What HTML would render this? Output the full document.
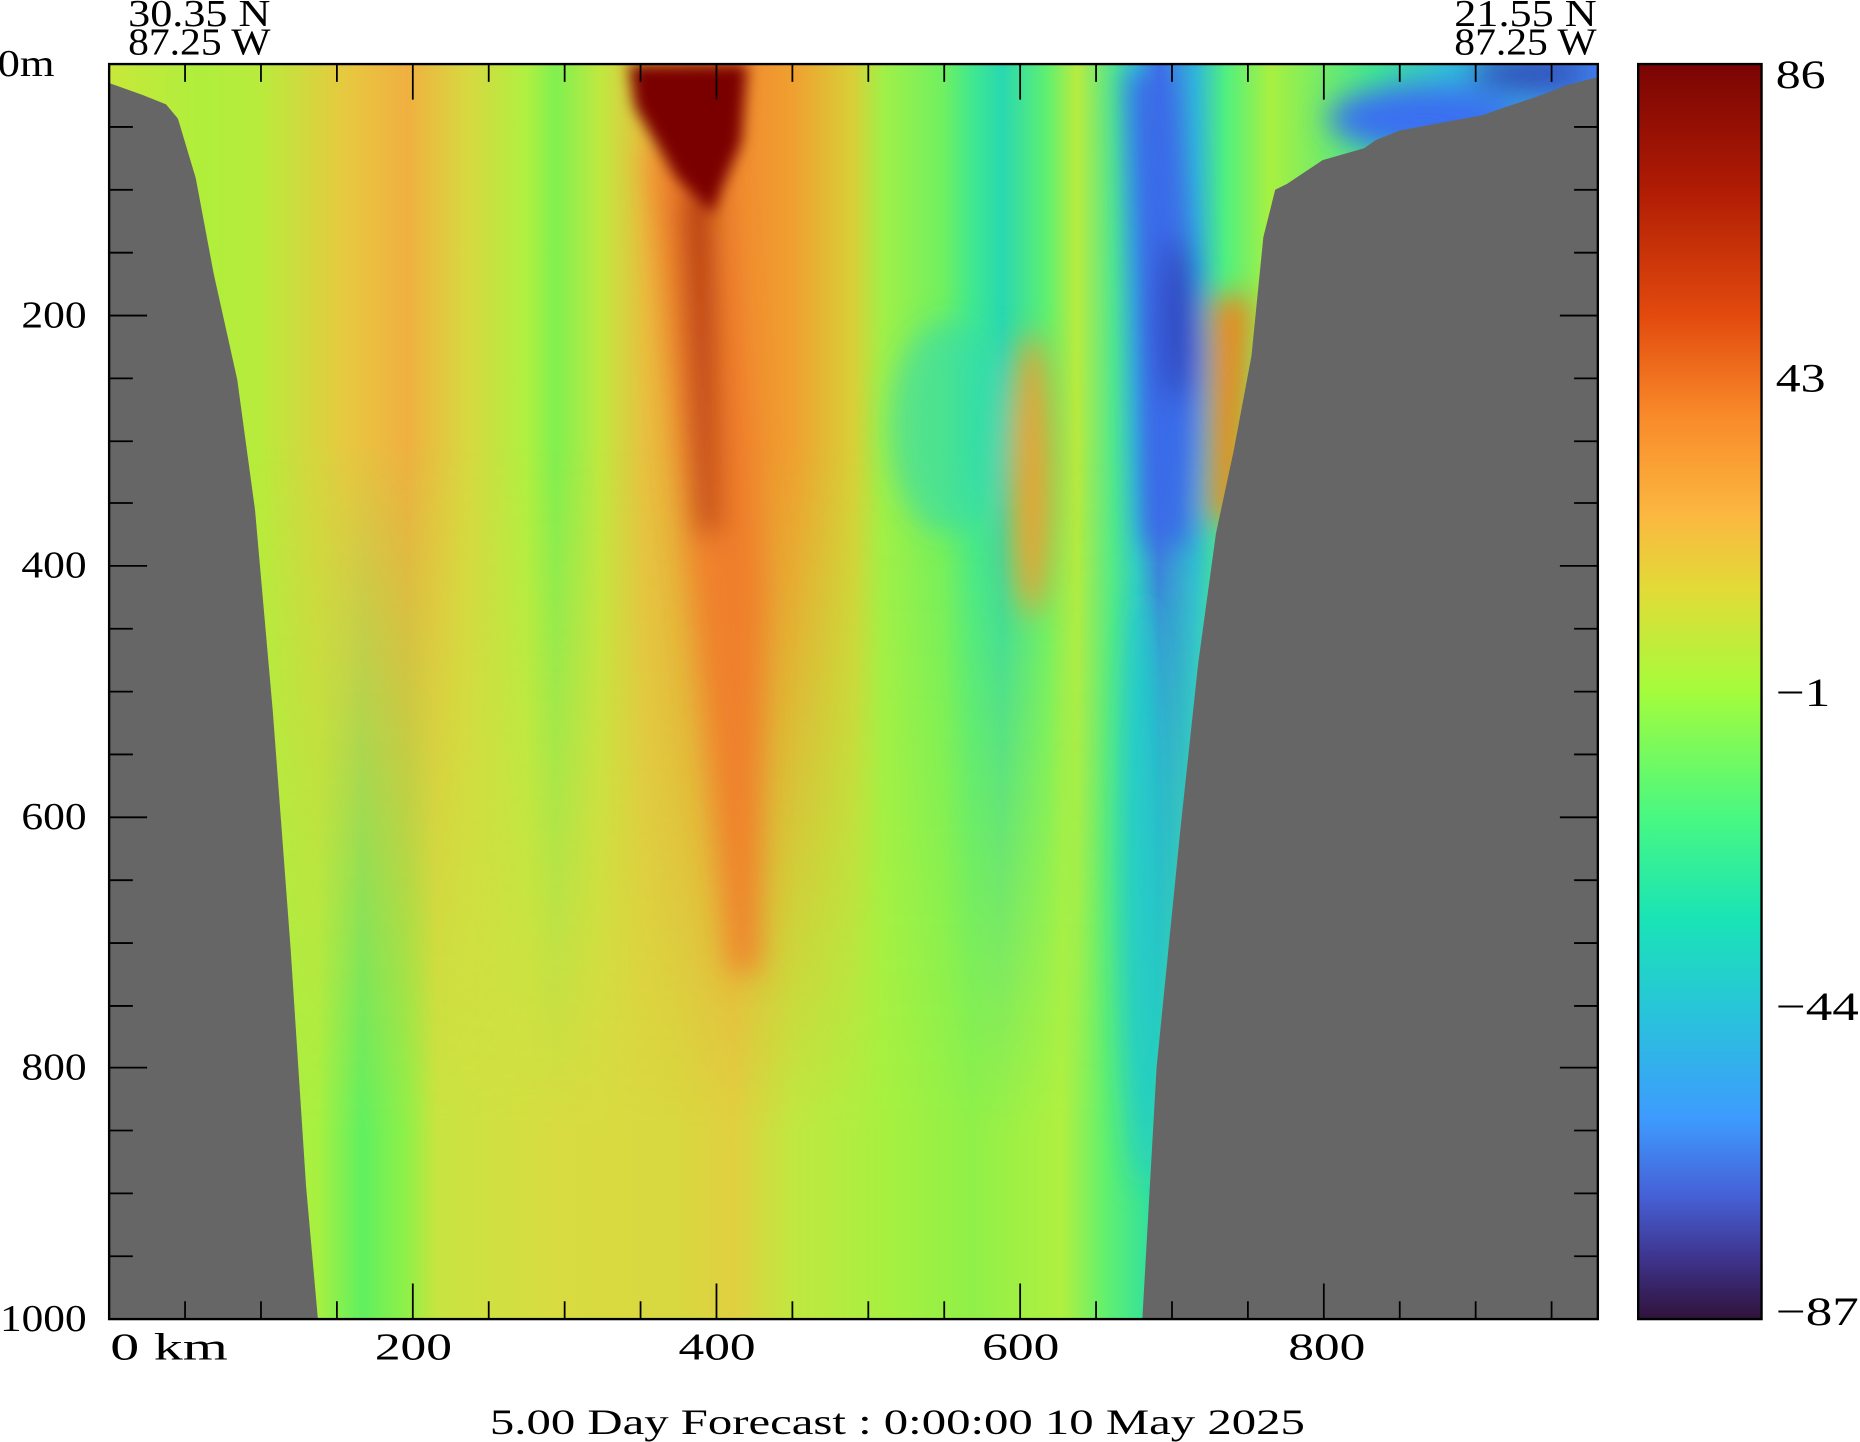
<!DOCTYPE html>
<html><head><meta charset="utf-8"><style>html,body{margin:0;padding:0;background:#fff}svg{display:block}</style></head><body>
<svg width="1860" height="1442" viewBox="0 0 1568 1215.6" xmlns="http://www.w3.org/2000/svg" font-family="Liberation Serif, serif" font-size="32" fill="#000">
<defs>
<linearGradient id="gt" x1="92" x2="1347" y1="0" y2="0" gradientUnits="userSpaceOnUse">
<stop offset="0" stop-color="#c8e83a"/>
<stop offset="0.06" stop-color="#b0ee3c"/>
<stop offset="0.1" stop-color="#b8ec3c"/>
<stop offset="0.16" stop-color="#e8c840"/>
<stop offset="0.2" stop-color="#f0b040"/>
<stop offset="0.24" stop-color="#d8d840"/>
<stop offset="0.28" stop-color="#b0f040"/>
<stop offset="0.3" stop-color="#80f050"/>
<stop offset="0.33" stop-color="#c0e840"/>
<stop offset="0.36" stop-color="#e8c040"/>
<stop offset="0.42" stop-color="#f08a30"/>
<stop offset="0.46" stop-color="#f0a030"/>
<stop offset="0.5" stop-color="#d8d038"/>
<stop offset="0.52" stop-color="#a0f048"/>
<stop offset="0.56" stop-color="#70f060"/>
<stop offset="0.58" stop-color="#40e890"/>
<stop offset="0.6" stop-color="#28d8b0"/>
<stop offset="0.63" stop-color="#60f070"/>
<stop offset="0.65" stop-color="#b8ec40"/>
<stop offset="0.675" stop-color="#50e890"/>
<stop offset="0.69" stop-color="#30c8d0"/>
<stop offset="0.705" stop-color="#4070e8"/>
<stop offset="0.73" stop-color="#30b8d8"/>
<stop offset="0.75" stop-color="#50f080"/>
<stop offset="0.78" stop-color="#a8f040"/>
<stop offset="0.85" stop-color="#40e890"/>
<stop offset="0.9" stop-color="#30c0d8"/>
<stop offset="1" stop-color="#4080f0"/>
</linearGradient>
<linearGradient id="gb" x1="92" x2="1347" y1="0" y2="0" gradientUnits="userSpaceOnUse">
<stop offset="0" stop-color="#c0e840"/>
<stop offset="0.14" stop-color="#a8f040"/>
<stop offset="0.17" stop-color="#60f060"/>
<stop offset="0.2" stop-color="#90f048"/>
<stop offset="0.22" stop-color="#c8e440"/>
<stop offset="0.3" stop-color="#d8dc40"/>
<stop offset="0.38" stop-color="#d8d840"/>
<stop offset="0.42" stop-color="#e0d040"/>
<stop offset="0.46" stop-color="#c0e840"/>
<stop offset="0.52" stop-color="#a8f040"/>
<stop offset="0.58" stop-color="#90f048"/>
<stop offset="0.64" stop-color="#b0f040"/>
<stop offset="0.67" stop-color="#60f070"/>
<stop offset="0.7" stop-color="#30e0a0"/>
<stop offset="0.73" stop-color="#40e8a0"/>
<stop offset="1" stop-color="#40e8a0"/>
</linearGradient>
<linearGradient id="fade" x1="0" x2="0" y1="54" y2="1112" gradientUnits="userSpaceOnUse">
<stop offset="0.3" stop-color="#fff" stop-opacity="0"/>
<stop offset="0.85" stop-color="#fff" stop-opacity="1"/>
</linearGradient>
<mask id="m"><rect x="92" y="54" width="1255" height="1058" fill="url(#fade)"/></mask>
<filter id="bl" x="-50%" y="-50%" width="200%" height="200%"><feGaussianBlur stdDeviation="12"/></filter>
<filter id="bl2" x="-50%" y="-50%" width="200%" height="200%"><feGaussianBlur stdDeviation="6"/></filter>
<linearGradient id="cb" x1="0" x2="0" y1="0" y2="1">
<stop offset="0" stop-color="#7a0403"/>
<stop offset="0.1" stop-color="#b01c04"/>
<stop offset="0.2" stop-color="#e24a0e"/>
<stop offset="0.28" stop-color="#f98a2a"/>
<stop offset="0.36" stop-color="#fbb840"/>
<stop offset="0.42" stop-color="#e1dc37"/>
<stop offset="0.5" stop-color="#a4fc3c"/>
<stop offset="0.6" stop-color="#48f882"/>
<stop offset="0.68" stop-color="#1ae4b6"/>
<stop offset="0.76" stop-color="#29c2dc"/>
<stop offset="0.84" stop-color="#3e9bfe"/>
<stop offset="0.9" stop-color="#4662d8"/>
<stop offset="0.95" stop-color="#3e358f"/>
<stop offset="1" stop-color="#30123b"/>
</linearGradient>
<clipPath id="pc"><rect x="92" y="54" width="1255" height="1058"/></clipPath>
</defs>
<g clip-path="url(#pc)">
<rect x="92" y="54" width="1255" height="1058" fill="url(#gt)"/>
<rect x="92" y="54" width="1255" height="1058" fill="url(#gb)" mask="url(#m)"/>
<g filter="url(#bl)">
<path d="M545,120 L610,150 L645,500 L640,820 L615,820 L585,500 Z" fill="#f07a28" opacity="0.85"/>
<path d="M575,160 L600,160 L605,450 L590,450 Z" fill="#a01408" opacity="0.85"/>
<ellipse cx="870" cy="400" rx="18" ry="120" fill="#f0a030" opacity="0.95"/>
<path d="M950,60 L985,60 L1012,300 L1000,460 L965,460 L958,250 Z" fill="#3a6ae8"/>
<ellipse cx="992" cy="270" rx="14" ry="70" fill="#3040b8" opacity="0.9"/>
<path d="M1022,250 L1055,250 L1045,440 L1020,440 Z" fill="#f5801e"/>
<ellipse cx="800" cy="360" rx="50" ry="90" fill="#30d8b0" opacity="0.6"/>
<ellipse cx="965" cy="750" rx="20" ry="250" fill="#20c8d0" opacity="0.8"/>
<ellipse cx="1200" cy="100" rx="80" ry="28" fill="#3a70f0"/>
<ellipse cx="1290" cy="62" rx="50" ry="12" fill="#3040b0"/>
</g>
<path d="M530,54 L630,54 L625,120 L600,180 L570,150 L535,90 Z" fill="#7a0403" filter="url(#bl2)"/>
<path d="M92,60 L92,70 L120,80 L140,88 L150,100 L165,150 L180,230 L200,320 L215,430 L230,600 L245,800 L258,1000 L268,1112 L92,1112 Z" fill="#666"/>
<path d="M963,1112 L975,900 L995,700 L1010,560 L1025,450 L1040,380 L1055,300 L1065,200 L1075,160 L1085,155 L1100,145 L1115,135 L1150,125 L1160,118 L1180,110 L1250,97 L1270,90 L1300,80 L1320,72 L1347,65 L1347,1112 Z" fill="#666"/>
</g>
<rect x="92" y="54" width="1255" height="1058" fill="none" stroke="#000" stroke-width="2"/>
<g stroke="#000" stroke-width="1.5">
<path d="M156,54v15M220,54v15M284,54v15M348,54v30M412,54v15M476,54v15M540,54v15M604,54v30M668,54v15M732,54v15M796,54v15M860,54v30M924,54v15M988,54v15M1052,54v15M1116,54v30M1180,54v15M1244,54v15M1308,54v15"/>
<path d="M156,1112v-15M220,1112v-15M284,1112v-15M348,1112v-30M412,1112v-15M476,1112v-15M540,1112v-15M604,1112v-30M668,1112v-15M732,1112v-15M796,1112v-15M860,1112v-30M924,1112v-15M988,1112v-15M1052,1112v-15M1116,1112v-30M1180,1112v-15M1244,1112v-15M1308,1112v-15"/>
<path d="M92,160h20M92,266h32M92,372h20M92,477h32M92,583h20M92,689h32M92,795h20M92,900h32M92,1006h20M92,213h20M92,319h20M92,424h20M92,530h20M92,636h20M92,742h20M92,848h20M92,953h20M92,1059h20M92,107h20"/>
<path d="M1347,107h-20M1347,160h-20M1347,213h-20M1347,266h-32M1347,319h-20M1347,372h-20M1347,424h-20M1347,477h-32M1347,530h-20M1347,583h-20M1347,636h-20M1347,689h-32M1347,742h-20M1347,795h-20M1347,848h-20M1347,900h-32M1347,953h-20M1347,1006h-20M1347,1059h-20"/>
</g>
<rect x="1381" y="54" width="104" height="1058" fill="url(#cb)" stroke="#000" stroke-width="2"/>
<g font-size="32">
<text x="108" y="22" textLength="120" lengthAdjust="spacingAndGlyphs">30.35 N</text>
<text x="108" y="46" textLength="120" lengthAdjust="spacingAndGlyphs">87.25 W</text>
<text x="1226" y="22" textLength="120" lengthAdjust="spacingAndGlyphs">21.55 N</text>
<text x="1226" y="46" textLength="120" lengthAdjust="spacingAndGlyphs">87.25 W</text>
<text x="-2" y="64" textLength="48" lengthAdjust="spacingAndGlyphs">0m</text>
<text x="18" y="276" textLength="55" lengthAdjust="spacingAndGlyphs">200</text>
<text x="18" y="487" textLength="55" lengthAdjust="spacingAndGlyphs">400</text>
<text x="18" y="699" textLength="55" lengthAdjust="spacingAndGlyphs">600</text>
<text x="18" y="910" textLength="55" lengthAdjust="spacingAndGlyphs">800</text>
<text x="0" y="1122" textLength="73" lengthAdjust="spacingAndGlyphs">1000</text>
<text x="93" y="1146" textLength="99" lengthAdjust="spacingAndGlyphs">0 km</text>
<text x="316" y="1146" textLength="65" lengthAdjust="spacingAndGlyphs">200</text>
<text x="572" y="1146" textLength="65" lengthAdjust="spacingAndGlyphs">400</text>
<text x="828" y="1146" textLength="65" lengthAdjust="spacingAndGlyphs">600</text>
<text x="1086" y="1146" textLength="65" lengthAdjust="spacingAndGlyphs">800</text>
<text x="1497" y="74" font-size="34" textLength="42" lengthAdjust="spacingAndGlyphs">86</text>
<text x="1497" y="330" font-size="34" textLength="42" lengthAdjust="spacingAndGlyphs">43</text>
<text x="1497" y="595" font-size="34" textLength="46" lengthAdjust="spacingAndGlyphs">−1</text>
<text x="1497" y="860" font-size="34" textLength="70" lengthAdjust="spacingAndGlyphs">−44</text>
<text x="1497" y="1117" font-size="34" textLength="70" lengthAdjust="spacingAndGlyphs">−87</text>
<text x="413" y="1209" font-size="30" textLength="687" lengthAdjust="spacingAndGlyphs">5.00 Day Forecast :  0:00:00  10 May 2025</text>
</g>
</svg>
</body></html>
